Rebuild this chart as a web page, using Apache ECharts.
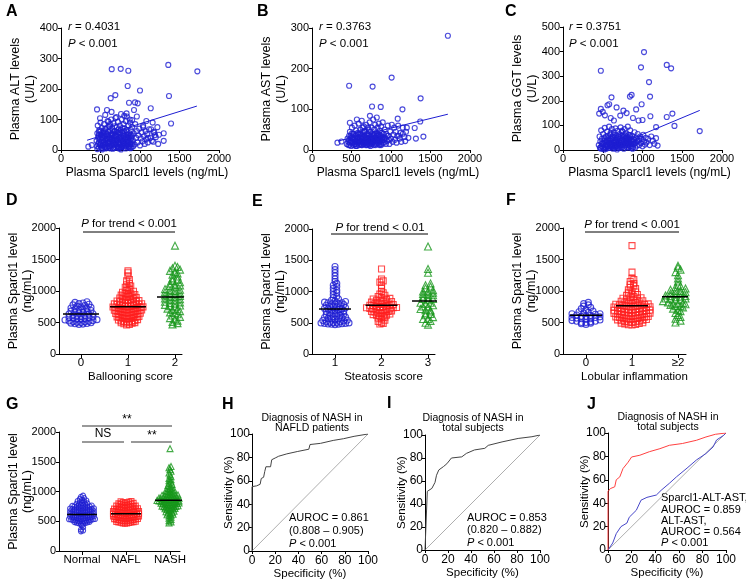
<!DOCTYPE html>
<html><head><meta charset="utf-8">
<script src="https://cdn.jsdelivr.net/npm/echarts@6/dist/echarts.min.js"></script>
<style>html,body{margin:0;padding:0;background:#fff}#c{width:746px;height:586px}</style>
</head><body><div id="c"></div>
<script>
// ---------------- DATA ----------------
const altPts = [[1358,279],[642,265],[756,266],[852,260],[1726,258],[844,210],[1000,195],[688,180],[629,170],[1367,177],[861,155],[937,156],[971,153],[1136,137],[456,133],[582,131],[924,131],[1393,87],[1300,55],[1300,30],[1190,49],[1168,27],[346,11],[389,16],
[494,104],[600,93],[560,115],[640,125],[700,108],[760,118],[800,112],[830,120],[870,100],[900,98],[960,110],[1040,80],[1080,95],[1160,90],[1220,75],[1240,50],[1180,60],[1140,68],[1100,40],
[450,30],[455,12],[460,55],[465,80],[470,20],[475,45],[480,8],[485,65],[490,35],[495,18],[500,90],[505,50],[510,5],[515,28],[520,72],[525,40],[530,15],[535,58],[540,25],[545,85],[550,10],[555,45],[560,32],[565,68],[570,18],[575,52],[580,8],[585,38],[590,95],[595,22],[600,60],[605,12],[610,42],[615,78],[620,28],[625,5],[630,55],[635,100],[640,35],[645,15],[650,70],[655,48],[660,25],[665,88],[670,8],[675,40],[680,62],[685,20],[690,105],[695,50],[700,30],[705,75],[710,12],[715,45],[720,92],[725,25],[730,58],[735,5],[740,38],[745,80],[750,18],[755,65],[760,42],[765,10],[770,100],[775,30],[780,55],[785,22],[790,85],[795,45],[800,8],[805,70],[810,35],[815,15],[820,95],[825,50],[830,28],[835,110],[840,60],[845,18],[850,40],[855,80],[860,12],[865,55],[870,30],[875,90],[880,20],[885,65],[890,45],[895,10],[900,75],[910,32],[920,55],[930,18],[940,85],[950,40],[960,62],[970,25],[980,48],[990,70],[1000,15],[1010,38],[1020,58],[1030,28],[1040,75],[1050,45],[1060,20],[1070,62],[1080,35],[1090,52],[1100,25],[1115,68],[1130,40],[1150,30],[1170,58],[1200,42],[1230,20],
[460,3],[480,25],[500,15],[520,2],[540,48],[560,8],[580,28],[600,35],[620,12],[640,50],[660,5],[680,32],[700,18],[720,8],[740,25],[760,30],[780,12],[800,22],[820,5],[840,35],[860,25],[880,6],[900,20],[540,62],[600,75],[650,30],[700,45],[750,55],[800,48],[850,10],[620,85],[680,78],[730,68],[780,72],[830,65],[880,50],[560,22],[610,22],[660,60],[710,60],[760,2],[790,38],[520,52],[470,40],[480,60],
[505,22],[515,42],[525,8],[535,32],[545,18],[555,55],[565,5],[575,35],[585,12],[595,48],[605,28],[615,8],[625,38],[635,18],[645,52],[655,5],[665,30],[675,22],[685,45],[695,8],[705,25],[715,35],[725,10],[735,50],[745,22],[755,8],[765,35],[775,15],[785,48],[795,28],[805,18],[815,40],[825,12],[835,28],[845,50],[855,30],[865,8],[875,18],[885,38],[895,28],[905,48],[915,12],[500,62],[560,70],[620,65],[680,50],[740,10],[800,60],[860,45],[480,50]];
const altFit = [[330,32],[1720,144]];

const astPts = [[1720,281],[1008,178],[470,158],[767,156],[1375,127],[760,107],[870,106],[1145,100],[1370,70],[1410,33],[1315,28],[1085,77],[479,67],[568,75],[733,84],[322,18],[373,21],[1300,54],[1200,55],[1220,30],[1180,22],[1150,40],[1100,35],
[440,15],[450,28],[460,20],[470,35],[475,12],[480,45],[490,22],[495,10],[500,30],[505,55],[510,18],[520,40],[525,12],[530,25],[540,60],[545,15],[550,35],[555,22],[560,48],[565,10],[570,28],[580,42],[585,18],[590,65],[595,12],[600,32],[605,22],[610,50],[615,15],[620,38],[625,28],[630,72],[635,12],[640,44],[645,20],[650,30],[655,58],[660,15],[665,35],[670,25],[675,48],[680,12],[685,62],[690,30],[695,20],[700,40],[705,15],[710,55],[715,25],[720,35],[725,12],[730,68],[735,28],[740,45],[745,18],[750,32],[755,55],[760,15],[765,40],[770,25],[775,75],[780,12],[785,35],[790,50],[795,22],[800,62],[805,30],[810,15],[815,42],[820,80],[825,25],[830,55],[835,18],[840,38],[845,65],[850,28],[855,12],[860,48],[865,20],[870,35],[875,58],[880,15],[885,42],[890,25],[895,68],[900,32],[910,18],[920,50],[930,28],[940,40],[950,22],[960,60],[970,35],[980,15],[990,45],[1000,28],[1010,62],[1020,20],[1030,38],[1040,55],[1050,25],[1060,45],[1070,18],[1080,35],[1090,60],[1110,28],[1120,42],[1130,20],[1150,55],[1170,32],[1190,45],
[480,18],[520,28],[560,14],[600,20],[640,28],[680,18],[720,22],[760,28],[800,18],[840,22],[880,28],[920,30],[500,40],[580,30],[660,45],[740,10],[820,35],[700,28],[620,18],[540,20],[780,38],[860,32],[720,50],[640,55],[590,40],
[505,20],[515,32],[525,40],[535,15],[545,28],[555,10],[565,38],[575,20],[585,30],[595,25],[605,40],[615,28],[625,12],[635,35],[645,22],[655,15],[665,45],[675,20],[685,30],[695,12],[705,38],[715,18],[725,28],[735,15],[745,35],[755,25],[765,18],[775,30],[785,22],[795,40],[805,12],[815,25],[825,35],[835,28],[845,15],[855,38],[865,25],[875,12],[885,30],[895,18],[905,40],[915,25],[935,15],[955,35],[975,25],[490,35],[470,25],[460,12]];
const astFit = [[330,22],[1720,88]];

const ggtPts = [[1019,398],[476,322],[981,336],[1305,346],[1360,332],[1082,276],[1095,217],[842,217],[863,224],[610,214],[581,186],[560,182],[674,173],[989,186],[1376,148],[1305,134],[1099,137],[1720,77],[1402,98],[1171,93],[476,167],[455,148],[527,141],[920,165],[800,150],[760,160],[720,140],[880,130],[950,120],[1000,122],[640,120],[600,130],[500,155],
[450,20],[460,55],[465,8],[470,35],[480,80],[485,15],[490,45],[500,25],[505,65],[510,10],[520,38],[525,90],[530,18],[540,55],[545,5],[550,30],[555,75],[560,15],[570,48],[575,25],[580,95],[585,8],[590,38],[595,62],[600,20],[605,45],[610,12],[615,85],[620,30],[625,55],[630,5],[635,40],[640,72],[645,20],[650,50],[655,10],[660,88],[665,32],[670,60],[675,15],[680,42],[685,78],[690,25],[695,55],[700,8],[705,35],[710,65],[715,18],[720,48],[725,92],[730,28],[735,58],[740,12],[745,40],[750,75],[755,22],[760,52],[765,5],[770,35],[775,85],[780,18],[785,45],[790,68],[795,28],[800,55],[805,10],[810,38],[815,95],[820,22],[825,62],[830,32],[835,48],[840,15],[845,80],[850,40],[860,25],[870,58],[880,12],[890,45],[900,72],[910,30],[920,50],[930,18],[940,65],[950,38],[960,20],[970,55],[980,28],[990,45],[1000,15],[1010,62],[1020,35],[1030,22],[1040,50],[1050,30],[1070,45],[1090,20],[1110,55],[1130,38],[1150,25],[1170,48],[1190,18],
[480,5],[520,2],[560,40],[600,70],[640,30],[680,2],[720,20],[760,40],[800,30],[840,60],[880,35],[540,22],[620,15],[700,25],[780,60],[860,8],[660,35],[740,78],[820,45],[900,25],
[505,5],[515,28],[525,50],[535,12],[545,35],[555,20],[565,58],[575,8],[585,30],[595,15],[605,28],[615,50],[625,18],[635,62],[645,8],[655,35],[665,15],[675,48],[685,25],[695,10],[705,55],[715,30],[725,8],[735,38],[745,20],[755,60],[765,28],[775,10],[785,30],[795,50],[805,20],[815,40],[825,10],[835,28],[845,55],[855,15],[865,35],[875,5],[885,25],[895,40],[910,10],[930,35],[960,45],[490,28],[470,10]];
const ggtFit = [[530,0],[1720,161]];

// Ballooning score
const dCats = ['0','1','2'];
const d0 = [470,475,480,485,490,495,500,505,510,515,520,525,530,540,545,550,555,560,570,575,580,590,600,605,610,620,630,635,640,650,660,665,670,680,690,700,710,715,720,730,740,750,760,770,780,790,800,810,820,830];
const d1 = [460,470,480,490,495,498,505,510,515,520,525,530,540,545,555,560,565,570,575,580,585,590,595,602,608,612,618,622,628,632,638,642,648,652,656,660,665,670,675,680,685,690,695,698,702,706,710,714,718,722,726,730,735,740,745,748,752,756,760,765,770,775,780,785,790,795,798,802,808,812,818,822,828,835,842,848,852,860,868,875,882,890,898,905,915,920,925,935,945,955,960,965,980,995,1010,1030,1050,1060,1080,1100,1120,1160,1180,1240,1290,1320];
const d2 = [470,490,510,530,550,570,590,610,630,650,660,680,700,710,720,740,750,760,770,780,790,800,810,820,830,840,850,860,870,880,890,900,910,920,930,940,950,960,970,980,990,1000,1010,1020,1030,1040,1060,1080,1090,1100,1120,1140,1160,1180,1200,1230,1260,1280,1300,1320,1340,1360,1380,1400,1720];
const dMeans = [635,750,905];
// Steatosis score
const eCats = ['1','2','3'];
const e0 = [470,475,478,480,485,488,490,495,498,500,505,510,515,520,530,535,540,550,560,560,570,580,585,590,600,610,620,620,630,640,650,650,660,670,680,690,700,700,710,720,720,730,740,750,750,760,770,780,790,800,800,810,820,820,830,840,850,860,880,900,920,950,980,1000,1020,1050,1080,1100,1130,1160,1200,1250,1300,1350,1400];
const e1 = [480,490,500,520,540,560,575,590,600,610,620,620,630,640,650,650,660,670,680,680,690,700,700,705,710,720,720,730,740,740,745,750,760,760,770,775,780,780,790,800,800,805,810,820,830,840,850,850,860,870,880,890,900,920,940,960,980,1000,1050,1100,1150,1170,1200,1360];
const e2 = [470,500,530,560,560,590,620,640,650,680,700,700,720,740,760,760,780,800,820,820,840,860,880,880,900,920,940,950,960,980,1000,1000,1020,1050,1080,1100,1130,1300,1360,1720];
const eMeans = [720,780,850];
// Lobular inflammation
const fCats = ['0','1','\u22652'];
const f0 = [470,480,490,500,500,510,520,520,530,540,550,560,560,570,580,580,590,600,600,610,620,630,640,640,650,660,670,680,700,720,740,760,780,800,820];
const f1 = [460,465,470,478,485,490,495,502,508,512,518,522,528,535,542,548,552,556,560,565,570,575,580,585,590,596,601,605,610,615,620,625,630,635,640,645,649,651,655,660,665,670,675,680,685,690,695,699,701,705,710,715,720,725,730,735,740,745,749,751,755,760,765,770,775,780,785,790,795,802,808,815,822,830,838,845,852,860,868,876,884,892,905,915,930,945,955,970,985,1000,1020,1040,1060,1080,1100,1120,1150,1180,1200,1300,1720];
const f2 = [500,530,560,590,620,650,680,700,720,740,760,760,780,790,800,800,810,820,830,840,840,850,860,870,880,880,890,900,910,920,920,930,940,950,960,960,980,1000,1000,1020,1040,1060,1080,1100,1150,1200,1250,1300,1340,1370,1400];
const fMeans = [615,765,910];
// Normal / NAFL / NASH
const gCats = ['Normal','NAFL','NASH'];
const g0 = [330,345,360,400,430,450,460,465,470,475,480,485,490,495,498,500,503,507,510,514,518,522,526,530,534,538,542,546,549,551,554,558,562,566,570,574,578,582,586,590,594,597,600,603,606,610,614,618,622,626,630,634,638,642,646,649,651,655,659,663,667,671,675,679,683,687,691,695,699,702,706,710,714,718,722,726,730,735,740,745,749,752,758,764,770,776,782,788,794,800,810,820,830,840,850,860,875,890,910,930];
const g1 = [460,462,465,470,475,478,480,485,490,492,495,500,505,508,510,515,520,522,525,530,535,538,540,545,548,550,552,555,560,565,568,570,575,580,582,585,590,595,598,600,602,605,610,612,615,620,625,628,630,635,640,642,645,650,655,656,658,660,665,670,672,675,680,685,688,690,695,700,702,706,710,712,718,724,730,732,736,742,748,755,762,770,778,786,794,800,810,820,830,840,748,762,778,792,808,822,836];
const g2 = [470,490,510,530,550,570,590,600,610,620,630,640,650,660,670,680,690,700,705,710,715,720,725,730,735,740,745,750,755,760,765,770,775,780,785,790,795,800,803,806,810,813,816,820,823,826,830,833,836,840,843,846,850,853,856,860,863,866,870,873,876,880,884,888,892,896,900,905,910,915,920,925,930,935,940,945,950,960,970,980,990,1000,1010,1020,1030,1040,1050,1060,1080,1100,1120,1140,1160,1180,1200,1220,1250,1280,1310,1340,1370,1400,1420,1720];
const gMeans = [615,625,855];

// ROC curves [specificity %, sensitivity %]
const hRoc = [[0,0],[0,55],[4,55.7],[7,57],[8,62],[10,63],[11,68],[12,72],[16,72],[17,78],[20,79.5],[23,81],[30,83],[39,85],[49,87],[50,91],[59,92],[70,94.5],[79,96],[88,98],[100,100]];
const iRoc = [[0,0],[2,51],[6,53.6],[8.7,58.8],[10,65],[12,69.6],[16,72.5],[19,75],[23,80],[32,81],[36,84],[43,87],[52,88.4],[55,91],[67,94],[81,97],[93,98.5],[100,100]];
const jRed = [[0,0],[0,50],[2,52.5],[5.7,54],[7,60],[10,62.5],[12.7,69.6],[17,75],[20,79.5],[27,81],[35,84],[44,86.6],[52,89.5],[63,91],[75,93.8],[83,96.6],[91,98.9],[100,100]];
const jBlue = [[0,0],[4,6],[7,14],[11,20],[16,23],[18,28],[24,34],[28,42.6],[33,45],[41,47],[45,51],[52,57],[58,62.5],[67,70],[75,77],[83,82.4],[89,88],[92,94],[98,98],[100,100]];
const refDiag = [[0,0],[100,100]];

// ---------------- LAYOUT / STYLE ----------------
const FONT = '"Liberation Sans", Arial, Helvetica, sans-serif';
const BLUE = '#1e1ed2', RED = '#ff1e1e', GREEN = '#16961a';
const grids = [
  {left:61, top:28, width:158, height:122},
  {left:312, top:28, width:158, height:122},
  {left:563, top:27, width:159, height:123},
  {left:59, top:228, width:123, height:126},
  {left:312, top:229, width:123, height:125},
  {left:563, top:228, width:123, height:126},
  {left:59, top:432, width:121, height:119},
  {left:252, top:434, width:116, height:117},
  {left:425, top:435, width:115, height:115},
  {left:608, top:433, width:118, height:117}
];
const swarmRange = {3:[-0.468,2.149], 4:[0.505,3.15], 5:[-0.5,2.174], 6:[-0.523,2.227]};

function merge(a, b) {
  for (const k in b) {
    if (b[k] && typeof b[k] === 'object' && !Array.isArray(b[k]) && a[k] && typeof a[k] === 'object') merge(a[k], b[k]);
    else a[k] = b[k];
  }
  return a;
}
function vAxis(gi, min, max, interval, extra) {
  const a = {
    type:'value', gridIndex:gi, min:min, max:max, nameMoveOverlap:false,
    axisLine:{show:true, onZero:false, lineStyle:{color:'#000', width:1}},
    axisTick:{show:true, length:3, lineStyle:{color:'#000', width:1}},
    axisLabel:{color:'#000', fontSize:11, fontFamily:FONT, margin:3, formatter:(v)=>String(v)},
    splitLine:{show:false},
    nameTextStyle:{color:'#000', fontSize:12, fontFamily:FONT}
  };
  if (interval != null) a.interval = interval;
  return merge(a, extra || {});
}
const xAxes = [], yAxes = [];
const sparcX = () => ({name:'Plasma Sparcl1 levels (ng/mL)', nameLocation:'middle', nameGap:17, nameTextStyle:{padding:[0,0,0,14]}});
const yName = (n, gap, lh) => ({name:n, nameLocation:'middle', nameRotate:90, nameGap:gap, nameTextStyle:{fontSize:12.5, lineHeight:lh || 15}});
xAxes.push(vAxis(0,0,2000,500,sparcX())); yAxes.push(vAxis(0,0,400,100,yName('Plasma ALT levels\n(U/L)',23)));
xAxes.push(vAxis(1,0,2000,500,sparcX())); yAxes.push(vAxis(1,0,300,100,yName('Plasma AST levels\n(U/L)',23)));
xAxes.push(vAxis(2,0,2000,500,sparcX())); yAxes.push(vAxis(2,0,500,100,yName('Plasma GGT levels\n(U/L)',23)));
function catX(gi, cats, vals, name) {
  const r = swarmRange[gi];
  return vAxis(gi, r[0], r[1], null, {
    axisTick:{customValues:vals, length:4},
    axisLabel:{customValues:vals, formatter:(v)=>cats[vals.indexOf(Math.round(v))] || '', fontSize:11.5},
    name:name, nameLocation:'middle', nameGap:17, nameTextStyle:{padding:[0,0,0,20], fontSize:11.5}
  });
}
const sparcY = () => yName('Plasma Sparcl1 level\n(ng/mL)', 24, 14);
xAxes.push(catX(3, dCats, [0,1,2], 'Ballooning score')); yAxes.push(vAxis(3,0,2000,500,sparcY()));
xAxes.push(catX(4, eCats, [1,2,3], 'Steatosis score')); yAxes.push(vAxis(4,0,2000,500,sparcY()));
xAxes.push(catX(5, fCats, [0,1,2], 'Lobular inflammation')); yAxes.push(vAxis(5,0,2000,500,sparcY()));
xAxes.push(catX(6, gCats, [0,1,2], '')); yAxes.push(vAxis(6,0,2000,500,sparcY()));
for (let gi = 7; gi <= 9; gi++) {
  xAxes.push(vAxis(gi,0,100,20,{name:'Specificity (%)', nameLocation:'middle', nameGap:17, axisLabel:{fontSize:12, margin:4}, nameTextStyle:{fontSize:11.5}}));
  yAxes.push(vAxis(gi,0,100,20,{name:'Sensitivity (%)', nameLocation:'middle', nameRotate:90, nameGap:17, axisLabel:{fontSize:12, margin:2}, nameTextStyle:{fontSize:11.5}}));
}

// ---------------- SERIES ----------------
const series = [];
function hollow(color, w) { return {color:'rgba(0,0,0,0)', borderColor:color, borderWidth:w || 1}; }
function scatterPanel(gi, pts, fit) {
  series.push({type:'scatter', xAxisIndex:gi, yAxisIndex:gi, data:pts, symbol:'circle', symbolSize:5, itemStyle:hollow(BLUE, 1.15), silent:true});
  series.push({type:'line', xAxisIndex:gi, yAxisIndex:gi, data:fit, symbol:'none', lineStyle:{color:BLUE, width:1}, z:3, silent:true});
}
scatterPanel(0, altPts, altFit);
scatterPanel(1, astPts, astFit);
scatterPanel(2, ggtPts, ggtFit);

// beeswarm: values binned, spread horizontally around the category position (width clamped)
function swarm(vals, center, bin, stepPx, halfW, unitsPerPx) {
  const groups = {};
  vals.forEach(v => { const k = Math.floor(v / bin); (groups[k] = groups[k] || []).push(v); });
  let maxN = 1; Object.keys(groups).forEach(k => { maxN = Math.max(maxN, groups[k].length); });
  const step = Math.min(stepPx, maxN > 1 ? 2*halfW/(maxN-1) : stepPx) * unitsPerPx;
  const out = [];
  Object.keys(groups).forEach(k => {
    const g = groups[k].slice().sort((a,b)=>a-b); const n = g.length;
    const pos = []; for (let i = 0; i < n; i++) pos.push(i - (n-1)/2);
    pos.sort((a,b)=>Math.abs(a)-Math.abs(b) || a-b);
    g.forEach((v,i) => out.push([center + pos[i]*step, v]));
  });
  return out;
}
const SYMS = [['circle',BLUE],['rect',RED],['triangle',GREEN]];
function swarmPanel(gi, groups, centers, means, binVal, stepPx, size, halfWs, meanHalfW) {
  const r = swarmRange[gi];
  const unitsPerPx = (r[1]-r[0]) / grids[gi].width;
  groups.forEach((vals, i) => {
    series.push({type:'scatter', xAxisIndex:gi, yAxisIndex:gi, data:swarm(vals, centers[i], binVal, stepPx, halfWs[i], unitsPerPx),
      symbol:SYMS[i][0], symbolSize:SYMS[i][0]==='triangle'? size+1 : size, itemStyle:hollow(SYMS[i][1], 1.1), silent:true});
    series.push({type:'line', xAxisIndex:gi, yAxisIndex:gi, data:[[centers[i]-meanHalfW*unitsPerPx, means[i]],[centers[i]+meanHalfW*unitsPerPx, means[i]]],
      symbol:'none', lineStyle:{color:'#000', width:1.5}, z:5, silent:true});
  });
}
swarmPanel(3, [d0,d1,d2], [0,1,2], dMeans, 50, 5, 6, [16,15,15], 18);
swarmPanel(4, [e0,e1,e2], [1,2,3], eMeans, 50, 5, 6, [14,15,15], 16);
swarmPanel(5, [f0,f1,f2], [0,1,2], fMeans, 50, 5, 6, [14,18,15], 16);
swarmPanel(6, [g0,g1,g2], [0,1,2], gMeans, 45, 4, 5, [13,13,13], 15);

function rocLine(gi, data, color, width) {
  series.push({type:'line', xAxisIndex:gi, yAxisIndex:gi, data:data, symbol:'none', lineStyle:{color:color, width:width}, silent:true});
}
rocLine(7, refDiag, '#999', 0.8); rocLine(7, hRoc, '#444', 1);
rocLine(8, refDiag, '#999', 0.8); rocLine(8, iRoc, '#444', 1);
rocLine(9, refDiag, '#999', 0.8); rocLine(9, jBlue, '#4646c8', 1); rocLine(9, jRed, '#ff4040', 1);

// ---------------- TEXT ANNOTATIONS ----------------
const graphic = [];
function rich(x, y, text, size, align) {
  const st = {text:text, x:0, y:0, align:align||'left', verticalAlign:'middle', fill:'#000',
    font: size + 'px ' + FONT,
    rich:{i:{fontStyle:'italic', fontSize:size, fontFamily:FONT}, n:{fontSize:size, fontFamily:FONT}}};
  graphic.push({type:'text', x:x, y:y, style:st, silent:true});
}
function letter(x, y, t) { graphic.push({type:'text', x:x, y:y, style:{text:t, font:'bold 16px ' + FONT, fill:'#000', verticalAlign:'middle'}, silent:true}); }
function hline(x1, x2, y, color, w) { graphic.push({type:'line', shape:{x1:x1, y1:y, x2:x2, y2:y}, style:{stroke:color, lineWidth:w}, silent:true}); }

letter(6, 12, 'A'); letter(257, 12, 'B'); letter(505, 12, 'C');
letter(6, 201, 'D'); letter(252, 202, 'E'); letter(506, 201, 'F');
letter(6, 405, 'G'); letter(222, 405, 'H'); letter(387, 404, 'I'); letter(587, 405, 'J');

rich(68, 27, '{i|r}{n| = 0.4031}', 11.5); rich(68, 44, '{i|P}{n| < 0.001}', 11.5);
rich(319, 27, '{i|r}{n| = 0.3763}', 11.5); rich(319, 44, '{i|P}{n| < 0.001}', 11.5);
rich(569, 27, '{i|r}{n| = 0.3751}', 11.5); rich(569, 44, '{i|P}{n| < 0.001}', 11.5);

rich(129, 224, '{i|P}{n| for trend < 0.001}', 11.5, 'center'); hline(83, 175, 232, '#000', 1);
rich(380, 228, '{i|P}{n| for trend < 0.01}', 11.5, 'center'); hline(331, 428, 234, '#000', 1);
rich(632, 225, '{i|P}{n| for trend < 0.001}', 11.5, 'center'); hline(585, 679, 232, '#000', 1);

rich(127, 420, '{n|**}', 12, 'center'); hline(82, 172, 426, '#777', 1.5);
rich(103, 434, '{n|NS}', 12, 'center'); hline(82, 124, 442, '#777', 1.5);
rich(152, 436, '{n|**}', 12, 'center'); hline(131, 172, 442, '#777', 1.5);

function title2(x, y, t) { graphic.push({type:'text', x:x, y:y, style:{text:t, font:'10.5px ' + FONT, fill:'#000', align:'center', verticalAlign:'middle', lineHeight:10}, silent:true}); }
title2(312, 423, 'Diagnosis of NASH in\nNAFLD patients');
title2(473, 423, 'Diagnosis of NASH in\ntotal subjects');
title2(668, 422, 'Diagnosis of NASH in\ntotal subjects');

rich(289, 518, '{n|AUROC = 0.861}', 11); rich(289, 531, '{n|(0.808 \u2013 0.905)}', 11); rich(289, 544, '{i|P}{n| < 0.001}', 11);
rich(467, 518, '{n|AUROC = 0.853}', 11); rich(467, 530, '{n|(0.820 \u2013 0.882)}', 11); rich(467, 543, '{i|P}{n| < 0.001}', 11);
rich(661, 498, '{n|Sparcl1-ALT-AST,}', 11); rich(661, 509.5, '{n|AUROC = 0.859}', 11); rich(661, 521, '{n|ALT-AST,}', 11);
rich(661, 532, '{n|AUROC = 0.564}', 11); rich(661, 543, '{i|P}{n| < 0.001}', 11);

const chart = echarts.init(document.getElementById('c'), null, {renderer:'canvas', width:746, height:586});
chart.setOption({
  animation:false,
  backgroundColor:'#fff',
  textStyle:{fontFamily:FONT},
  grid:grids,
  xAxis:xAxes,
  yAxis:yAxes,
  series:series,
  graphic:graphic
});
</script></body></html>
